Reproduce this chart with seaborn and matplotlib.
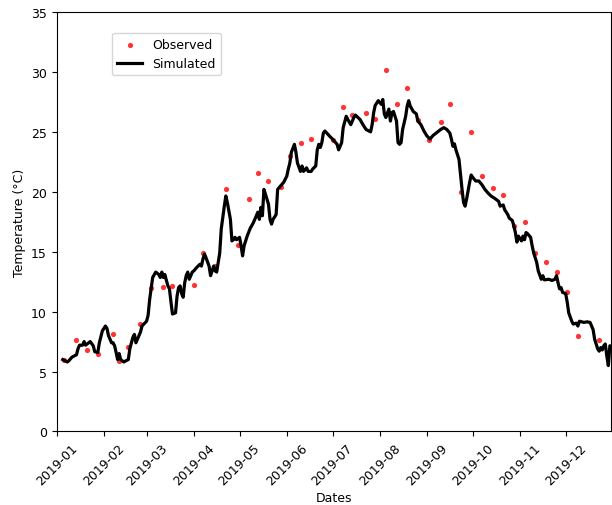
import numpy as np
import pandas as pd
import matplotlib
matplotlib.use("Agg")
import matplotlib.pyplot as plt
import matplotlib.dates as mdates
import seaborn as sns

plt.rcParams["font.size"] = 9

# Weekly field observations (date, daily mean temperature in °C)
obs_dates = [
    "2019-01-06", "2019-01-14", "2019-01-21", "2019-01-28", "2019-02-07", "2019-02-11",
    "2019-02-17", "2019-02-25", "2019-03-04", "2019-03-12", "2019-03-18", "2019-04-01",
    "2019-04-07", "2019-04-15", "2019-04-22", "2019-04-30", "2019-05-07", "2019-05-13",
    "2019-05-20", "2019-05-28", "2019-06-03", "2019-06-10", "2019-06-17", "2019-07-01",
    "2019-07-08", "2019-07-14", "2019-07-23", "2019-07-29", "2019-08-05", "2019-08-12",
    "2019-08-19", "2019-08-26", "2019-09-02", "2019-09-10", "2019-09-16", "2019-09-23",
    "2019-09-30", "2019-10-07", "2019-10-14", "2019-10-21", "2019-10-28", "2019-11-04",
    "2019-11-11", "2019-11-18", "2019-11-25", "2019-12-02", "2019-12-09", "2019-12-23",
]
obs_temp = [
    6.0, 7.65, 6.8, 6.46, 8.1, 5.9,
    7.07, 9.0, 12.0, 12.07, 12.1, 12.2,
    14.9, 13.8, 20.2, 15.6, 19.4, 21.6,
    20.9, 20.4, 23.0, 24.1, 24.4, 24.3,
    27.1, 26.4, 26.6, 26.1, 30.2, 27.35,
    28.7, 26.0, 24.3, 25.8, 27.35, 20.0,
    25.0, 21.3, 20.3, 19.7, 17.15, 17.5,
    14.9, 14.1, 13.3, 11.6, 8.0, 7.6,
]

# Model output: day of year (0 = 1 January) and simulated temperature (°C)
sim_day = [
    4, 7, 8, 10, 13, 14, 15, 17, 18, 19, 21, 22, 24, 25, 27, 28, 30, 32, 33, 34,
    36, 37, 38, 39, 40, 41, 42, 44, 47, 48, 50, 51, 52, 53, 55, 56, 59, 60, 61, 63,
    65, 67, 68, 69, 70, 71, 72, 73, 74, 75, 76, 78, 79, 80, 81, 82, 83, 84, 85, 86,
    87, 89, 90, 92, 94, 95, 96, 97, 98, 100, 101, 102, 103, 104, 105, 107, 108, 110, 111, 112,
    114, 115, 116, 117, 118, 120, 121, 122, 123, 125, 127, 129, 131, 132, 133, 134, 135, 136, 137, 139,
    140, 141, 142, 144, 145, 147, 149, 151, 152, 153, 154, 156, 157, 158, 160, 161, 162, 164, 165, 167,
    168, 170, 171, 172, 173, 174, 175, 176, 178, 179, 181, 184, 185, 187, 188, 190, 191, 193, 195, 196,
    199, 201, 203, 206, 207, 208, 209, 211, 213, 214, 215, 216, 218, 219, 220, 221, 223, 224, 225, 226,
    227, 229, 230, 231, 232, 234, 236, 237, 239, 241, 243, 245, 247, 249, 252, 254, 256, 258, 259, 260,
    261, 262, 264, 266, 267, 268, 269, 271, 272, 273, 275, 277, 279, 281, 283, 285, 288, 290, 291, 293,
    294, 295, 296, 297, 299, 300, 301, 302, 303, 305, 306, 307, 308, 309, 311, 312, 313, 315, 316, 318,
    319, 320, 323, 325, 327, 328, 329, 330, 331, 332, 334, 335, 336, 338, 339, 341, 342, 343, 346, 348,
    350, 352, 353, 355, 356, 357, 358, 359, 360, 361, 362, 363, 364,
]
sim_temp = [
    6.0, 5.8, 5.9, 6.2, 6.4, 6.9, 7.2, 7.2, 7.5, 7.2, 7.4, 7.5, 7.15, 6.65, 6.6, 7.4, 8.4, 8.8, 8.6, 8.0,
    7.4, 7.4, 7.15, 6.6, 6.0, 6.5, 6.0, 5.8, 6.0, 6.9, 7.85, 8.1, 7.4, 7.7, 8.3, 8.8, 9.2, 9.7, 11.0, 12.85,
    13.3, 13.1, 12.85, 13.3, 12.85, 13.1, 12.6, 12.15, 11.9, 10.8, 9.8, 9.9, 11.3, 12.0, 12.15, 11.5, 11.2, 12.4, 13.0, 13.3,
    12.7, 13.3, 13.4, 13.7, 13.95, 13.8, 14.4, 14.8, 14.5, 13.8, 13.0, 13.4, 13.8, 13.4, 13.3, 14.9, 16.9, 18.8, 19.65, 19.1,
    17.7, 15.9, 16.0, 16.2, 16.0, 16.2, 15.5, 14.65, 15.5, 16.3, 16.95, 17.4, 18.0, 18.3, 17.7, 18.7, 18.0, 20.2, 19.8, 18.96,
    17.7, 17.3, 17.7, 18.1, 20.2, 20.5, 20.8, 21.3, 21.9, 22.4, 23.3, 23.96, 23.3, 22.4, 21.7, 22.15, 21.7, 22.0, 21.7, 21.7,
    21.9, 22.15, 23.5, 23.96, 23.7, 24.1, 24.9, 25.07, 24.8, 24.65, 24.4, 23.96, 23.5, 24.1, 25.35, 26.3, 26.04, 25.6, 26.2, 26.4,
    26.04, 25.6, 25.2, 25.0, 25.6, 26.6, 27.2, 27.6, 27.3, 27.7, 26.5, 26.2, 26.9, 25.9, 26.6, 26.7, 25.9, 24.1, 23.96, 24.1,
    25.2, 26.3, 27.15, 27.6, 27.15, 26.7, 26.5, 25.9, 25.6, 25.07, 24.65, 24.4, 24.7, 24.9, 25.2, 25.35, 25.2, 24.9, 24.4, 23.8,
    24.0, 23.5, 22.7, 20.2, 19.1, 18.8, 19.4, 20.8, 21.4, 21.2, 20.9, 20.9, 20.6, 20.2, 19.9, 19.65, 19.4, 19.2, 18.8, 18.9,
    18.5, 18.3, 18.1, 17.8, 17.6, 17.15, 16.6, 15.8, 16.3, 15.9, 16.3, 16.0, 16.6, 16.5, 16.2, 15.5, 14.9, 14.1, 13.4, 12.7,
    13.0, 12.65, 12.7, 12.6, 12.7, 13.0, 12.4, 11.9, 12.0, 11.6, 11.5, 10.8, 9.9, 9.2, 8.96, 9.04, 8.8, 9.2, 9.1, 9.15,
    9.1, 8.5, 7.7, 6.9, 6.7, 7.0, 6.8, 7.15, 7.3, 6.3, 5.5, 7.15, 7.1,
]

start = pd.Timestamp("2019-01-01")
obs = pd.DataFrame({"date": pd.to_datetime(obs_dates), "temp": obs_temp})
sim = pd.DataFrame({"date": start + pd.to_timedelta(sim_day, unit="D"), "temp": sim_temp})

fig = plt.figure(figsize=(6.12, 5.06), dpi=100)
ax = fig.add_axes([0.0926, 0.1453, 0.9064, 0.829])

sns.scatterplot(data=obs, x="date", y="temp", color="red", alpha=0.8, s=14,
                linewidth=0, label="Observed", ax=ax)
sns.lineplot(data=sim, x="date", y="temp", color="black", linewidth=2.3,
             label="Simulated", ax=ax)

ax.set_xlim(pd.Timestamp("2019-01-01"), pd.Timestamp("2019-12-31"))
ax.set_ylim(0, 35)
ax.xaxis.set_major_locator(mdates.MonthLocator())
ax.xaxis.set_major_formatter(mdates.DateFormatter("%Y-%m"))
plt.setp(ax.get_xticklabels(), rotation=45, ha="center")
ax.set_xlabel("Dates", labelpad=3)
ax.set_ylabel("Temperature (°C)")

ax.legend(loc="upper left", bbox_to_anchor=(0.1, 0.95), borderaxespad=0)

fig.savefig("out.png", dpi=100)
